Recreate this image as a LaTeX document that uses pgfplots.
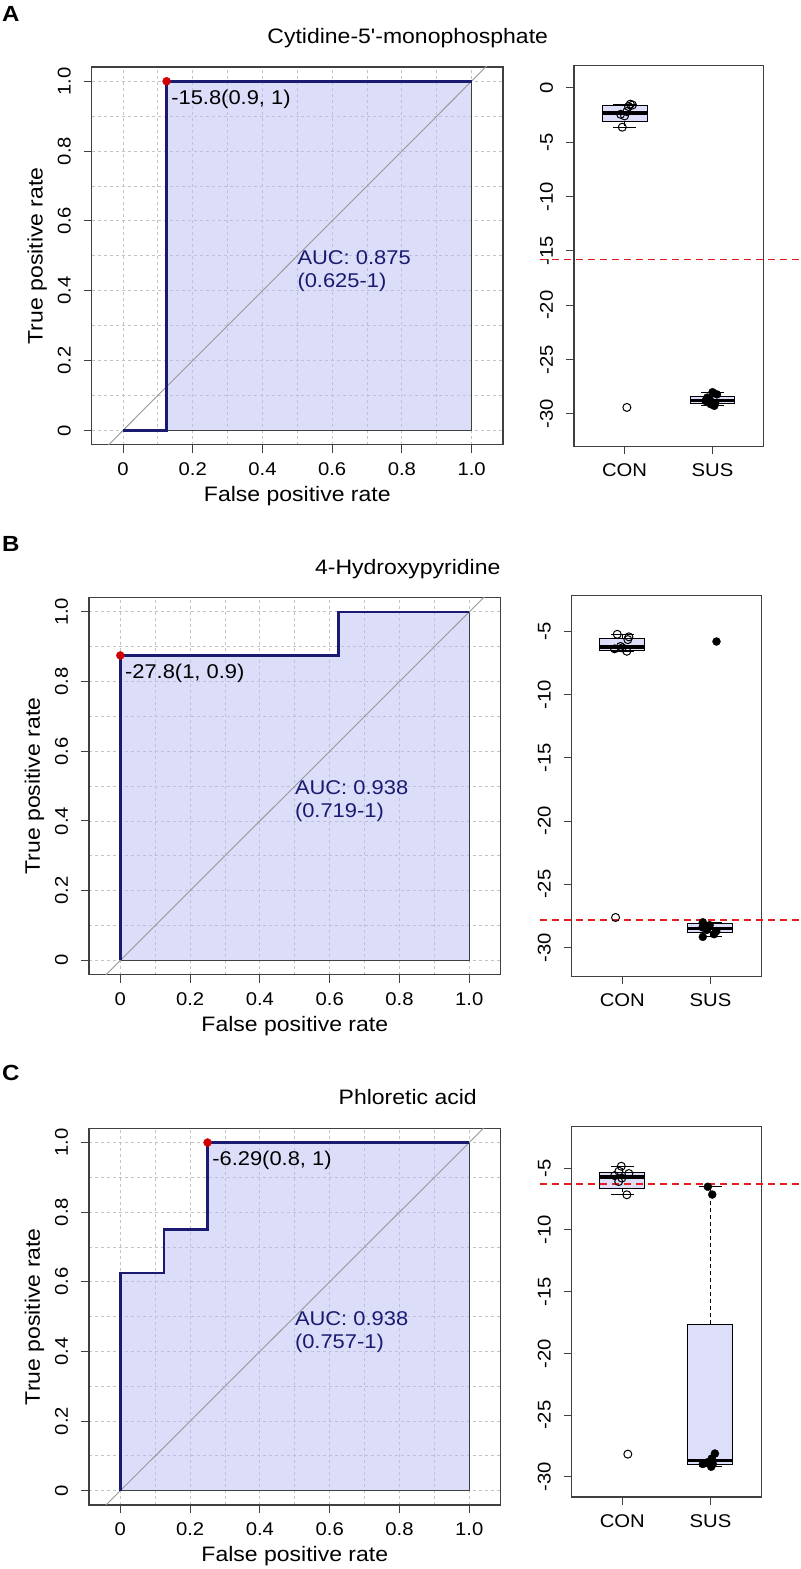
\documentclass[border=0pt]{standalone}
\usepackage{fontspec}
\setmainfont{Liberation Sans}[FakeStretch=1.1, Ligatures=TeXOff]
\usepackage{pgfplots}
\pgfplotsset{compat=1.18}
\usepgfplotslibrary{statistics}

\definecolor{navyline}{RGB}{26,26,112}
\definecolor{aucfill}{RGB}{185,189,245}
\definecolor{boxfill}{RGB}{220,222,250}
\definecolor{framegray}{RGB}{64,64,64}
\definecolor{gridgray}{RGB}{195,195,195}
\definecolor{cutred}{RGB}{232,30,30}
\definecolor{dotred}{RGB}{210,0,0}

\newcommand\tk{\fontsize{18.5}{20}\selectfont}
\newcommand\lab{\fontsize{21}{24}\selectfont}
\newcommand\txt{\fontsize{20}{22.7}\selectfont}

\pgfplotsset{
  base/.style={
    scale only axis, anchor=south west,
    tick align=outside, tick pos=left,
    major tick length=8bp, minor tick length=0bp,
    axis line style={framegray, line width=1.4bp},
    tick style={framegray, line width=1bp},
    tick label style={font=\tk, inner sep=0pt},
    xticklabel style={anchor=base},
    yticklabel style={rotate=90, anchor=base},
    xticklabel shift=22.5bp, yticklabel shift=13bp,
  },
  roc/.style={
    base, clip mode=individual,
    xmin=-0.09, xmax=1.09, ymin=-0.041, ymax=1.041,
    xtick={0,0.2,0.4,0.6,0.8,1}, xticklabels={0,0.2,0.4,0.6,0.8,1.0},
    ytick={0,0.2,0.4,0.6,0.8,1}, yticklabels={0,0.2,0.4,0.6,0.8,1.0},
    minor xtick={0.1,0.3,0.5,0.7,0.9}, minor ytick={0.1,0.3,0.5,0.7,0.9},
    grid=both, grid style={gridgray, line width=0.9bp, dash pattern=on 3bp off 3bp},
    xlabel={False positive rate}, ylabel={True positive rate},
    label style={font=\lab},
    xlabel style={at={(axis description cs:0.5,-0.1496)}, anchor=base},
    ylabel style={at={(axis description cs:-0.119,0.5)}, anchor=base},
  },
  bx/.style={
    base, clip=false, width=190bp,
    xtick={1,2}, xticklabels={CON,SUS},
    boxplot/draw direction=y,
    boxplot/every median/.style={line width=3.5bp},
    boxplot/every whisker/.style={dash pattern=on 4bp off 3bp},
    unbounded coords=jump,
  },
  auc/.style={draw=framegray, line width=1.2bp, fill=aucfill, fill opacity=0.5},
  diag/.style={gray!80, line width=0.9bp},
  curve/.style={navyline, line width=2.6bp},
  cut/.style={only marks, mark=*, mark size=4bp, color=dotred},
  bxs/.style={fill=boxfill, draw=black, line width=1bp},
  cap/.style={black, line width=1bp},
  opn/.style={only marks, mark=o, mark size=4bp, black, mark options={line width=1bp}},
  fil/.style={only marks, mark=*, mark size=4bp, black},
  thr/.style={cutred, line width=1.5bp, dash pattern=on 7bp off 5bp},
}

\begin{document}
\begin{tikzpicture}
\fill[white] (0,0) rectangle (800bp,1569bp);

% ---------------- A ----------------
\node[anchor=north west, inner sep=0pt, font=\fontsize{22}{24}\selectfont\bfseries] at (2bp,1563bp) {A};
\node[anchor=base, inner sep=0pt, font=\lab] at (408bp,1525bp) {Cytidine-5'-monophosphate};

\begin{axis}[roc, at={(91.7bp,1124bp)}, width=411.6bp, height=378bp]
\addplot[auc] coordinates {(0,0) (0.125,0) (0.125,1) (1,1)} \closedcycle;
\addplot[diag] coordinates {(-0.2,-0.2) (1.2,1.2)};
\addplot[curve] coordinates {(0,0) (0.125,0) (0.125,1) (1,1)};
\addplot[cut] coordinates {(0.125,1)};
\node[anchor=north west, inner sep=0pt, font=\txt] at (axis cs:0.138,0.975) {-15.8(0.9, 1)};
\node[anchor=north west, inner sep=0pt, font=\txt, align=left, text=navyline] at (axis cs:0.5,0.515) {AUC: 0.875\\(0.625-1)};
\end{axis}

\begin{axis}[bx, at={(574.3bp,1122.3bp)}, height=381bp,
  xmin=0.424, xmax=2.583, ymin=-32.98, ymax=2.02,
  ytick={-30,-25,-20,-15,-10,-5,0}, yticklabels={-30,-25,-20,-15,-10,-5,0}]
\addplot[bxs, boxplot prepared={draw position=1, lower whisker=-3.64, lower quartile=-3.12,
  median=-2.33, upper quartile=-1.67, upper whisker=-1.52, box extend=0.51, whisker extend=0}] coordinates {};
\addplot[bxs, boxplot prepared={draw position=2, lower whisker=-29.25, lower quartile=-29.05,
  median=-28.75, upper quartile=-28.35, upper whisker=-28.0, box extend=0.51, whisker extend=0}] coordinates {};
\addplot[cap] coordinates {(0.8725,-3.64) (1.1275,-3.64) (nan,nan) (0.8725,-1.52) (1.1275,-1.52)
  (nan,nan) (1.8725,-29.25) (2.1275,-29.25) (nan,nan) (1.8725,-28.0) (2.1275,-28.0)};
\addplot[thr] coordinates {(0.04,-15.8) (2.99,-15.8)};
\addplot[opn] coordinates {(1.065,-1.52) (1.09,-1.60) (1.045,-1.74) (1.026,-2.2) (0.955,-2.45)
  (1.0,-2.6) (0.974,-3.64) (1.026,-29.4)};
\addplot[fil] coordinates {(2.00,-28.0) (2.05,-28.2) (1.94,-28.5) (1.97,-28.7) (1.92,-28.8)
  (2.03,-29.0) (1.98,-29.1) (2.02,-29.25)};
\end{axis}

% ---------------- B ----------------
\node[anchor=north west, inner sep=0pt, font=\fontsize{22}{24}\selectfont\bfseries] at (2bp,1032bp) {B};
\node[anchor=base, inner sep=0pt, font=\lab] at (408bp,994bp) {4-Hydroxypyridine};

\begin{axis}[roc, at={(89bp,593.7bp)}, width=412bp, height=377.3bp]
\addplot[auc] coordinates {(0,0) (0,0.875) (0.625,0.875) (0.625,1) (1,1)} \closedcycle;
\addplot[diag] coordinates {(-0.2,-0.2) (1.2,1.2)};
\addplot[curve] coordinates {(0,0) (0,0.875) (0.625,0.875) (0.625,1) (1,1)};
\addplot[cut] coordinates {(0,0.875)};
\node[anchor=north west, inner sep=0pt, font=\txt] at (axis cs:0.013,0.852) {-27.8(1, 0.9)};
\node[anchor=north west, inner sep=0pt, font=\txt, align=left, text=navyline] at (axis cs:0.5,0.515) {AUC: 0.938\\(0.719-1)};
\end{axis}

\begin{axis}[bx, at={(572bp,592bp)}, height=381bp,
  xmin=0.426, xmax=2.578, ymin=-32.27, ymax=-2.18,
  ytick={-30,-25,-20,-15,-10,-5}, yticklabels={-30,-25,-20,-15,-10,-5}]
\addplot[bxs, boxplot prepared={draw position=1, lower whisker=-6.58, lower quartile=-6.49,
  median=-6.26, upper quartile=-5.55, upper whisker=-5.24, box extend=0.51, whisker extend=0}] coordinates {};
\addplot[bxs, boxplot prepared={draw position=2, lower whisker=-29.15, lower quartile=-28.82,
  median=-28.5, upper quartile=-28.12, upper whisker=-28.0, box extend=0.51, whisker extend=0}] coordinates {};
\addplot[cap] coordinates {(0.8725,-6.58) (1.1275,-6.58) (nan,nan) (0.8725,-5.24) (1.1275,-5.24)
  (nan,nan) (1.8725,-29.15) (2.1275,-29.15) (nan,nan) (1.8725,-28.0) (2.1275,-28.0)};
\addplot[thr] coordinates {(0.07,-27.8) (3.0,-27.8)};
\addplot[opn] coordinates {(0.943,-5.24) (1.075,-5.44) (1.063,-5.66) (0.913,-6.39) (1.0,-6.31)
  (1.052,-6.58) (0.98,-6.2) (0.924,-27.62)};
\addplot[fil] coordinates {(2.068,-5.81) (1.913,-28.0) (1.91,-28.4) (1.99,-28.23) (1.913,-29.15)
  (2.04,-28.94) (2.065,-28.7) (1.96,-28.6)};
\end{axis}

% ---------------- C ----------------
\node[anchor=north west, inner sep=0pt, font=\fontsize{22}{24}\selectfont\bfseries] at (2bp,503bp) {C};
\node[anchor=base, inner sep=0pt, font=\lab] at (408bp,464bp) {Phloretic acid};

\begin{axis}[roc, at={(89bp,63bp)}, width=412bp, height=377bp]
\addplot[auc] coordinates {(0,0) (0,0.625) (0.125,0.625) (0.125,0.75) (0.25,0.75) (0.25,1) (1,1)} \closedcycle;
\addplot[diag] coordinates {(-0.2,-0.2) (1.2,1.2)};
\addplot[curve] coordinates {(0,0) (0,0.625) (0.125,0.625) (0.125,0.75) (0.25,0.75) (0.25,1) (1,1)};
\addplot[cut] coordinates {(0.25,1)};
\node[anchor=north west, inner sep=0pt, font=\txt] at (axis cs:0.263,0.976) {-6.29(0.8, 1)};
\node[anchor=north west, inner sep=0pt, font=\txt, align=left, text=navyline] at (axis cs:0.5,0.515) {AUC: 0.938\\(0.757-1)};
\end{axis}

\begin{axis}[bx, at={(572bp,71bp)}, height=371bp,
  xmin=0.426, xmax=2.578, ymin=-31.62, ymax=-1.60,
  ytick={-30,-25,-20,-15,-10,-5}, yticklabels={-30,-25,-20,-15,-10,-5}]
\addplot[bxs, boxplot prepared={draw position=1, lower whisker=-7.15, lower quartile=-6.615,
  median=-5.7, upper quartile=-5.335, upper whisker=-4.84, box extend=0.51, whisker extend=0}] coordinates {};
\addplot[bxs, boxplot prepared={draw position=2, lower whisker=-29.17, lower quartile=-28.95,
  median=-28.65, upper quartile=-17.615, upper whisker=-6.5, box extend=0.51, whisker extend=0}] coordinates {};
\addplot[cap] coordinates {(0.8725,-7.15) (1.1275,-7.15) (nan,nan) (0.8725,-4.84) (1.1275,-4.84)
  (nan,nan) (1.8725,-29.17) (2.1275,-29.17) (nan,nan) (1.8725,-6.5) (2.1275,-6.5)};
\addplot[thr] coordinates {(0.07,-6.29) (3.0,-6.29)};
\addplot[opn] coordinates {(0.989,-4.84) (0.962,-5.24) (1.075,-5.43) (0.913,-5.6) (0.995,-5.8)
  (0.96,-6.08) (1.052,-7.15) (1.063,-28.15)};
\addplot[fil] coordinates {(1.97,-6.5) (2.02,-7.13) (2.05,-28.1) (2.015,-28.5) (1.913,-28.95)
  (1.97,-28.8) (2.008,-29.17) (2.026,-28.95)};
\end{axis}
\end{tikzpicture}
\end{document}
